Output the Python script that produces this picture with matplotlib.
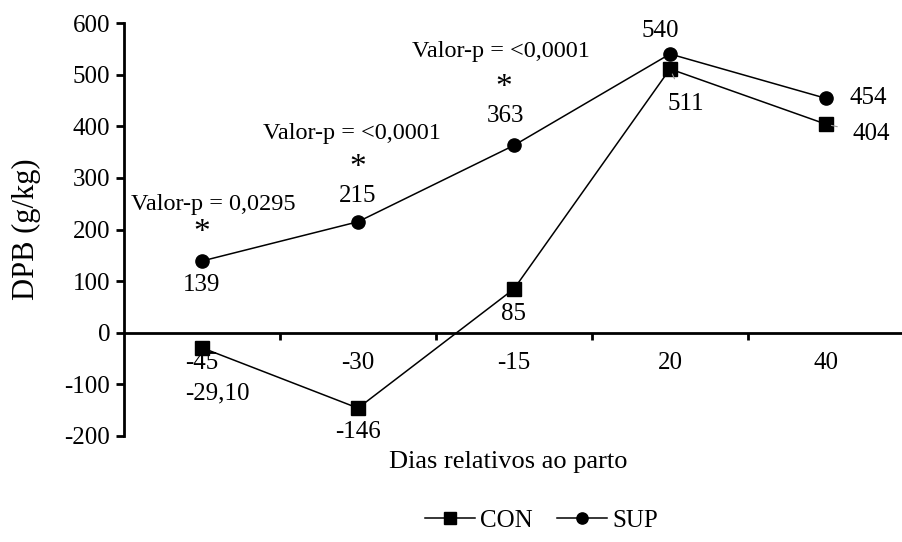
import matplotlib
matplotlib.use("Agg")
import matplotlib.pyplot as plt
import numpy as np

dias = ["-45", "-30", "-15", "20", "40"]
con = [-29.10, -146, 85, 511, 404]
sup = [139, 215, 363, 540, 454]
con_labels = ["-29,10", "-146", "85", "511", "404"]
sup_labels = ["139", "215", "363", "540", "454"]
pvalores = ["Valor-p = 0,0295", "Valor-p = <0,0001", "Valor-p = <0,0001"]

plt.rcParams["font.family"] = ["Liberation Serif", "DejaVu Serif"]
plt.rcParams["axes.unicode_minus"] = False

fig = plt.figure(figsize=(9.03, 5.42), dpi=100)
ax = fig.add_axes([124 / 903, 1 - 436 / 542, 780 / 903, (436 - 23) / 542])

x = np.arange(len(dias))
ax.plot(x, con, color="black", lw=1.1, marker="s", ms=10.5, label="CON")
ax.plot(x, sup, color="black", lw=1.1, marker="o", ms=9.5, label="SUP")

ax.set_xlim(-0.5, len(dias) - 0.5)
ax.set_ylim(-200, 600)
ax.set_yticks(np.arange(-200, 601, 100))
ax.tick_params(axis="y", labelsize=18, width=2, length=6, direction="out", pad=4)

ax.spines["top"].set_visible(False)
ax.spines["right"].set_visible(False)
ax.spines["bottom"].set_position(("data", 0))
ax.spines["left"].set_linewidth(2)
ax.spines["bottom"].set_linewidth(2)

ax.set_xticks(x)
ax.set_xticklabels(dias)
ax.set_xticks(x[:-1] + 0.5, minor=True)
ax.tick_params(axis="x", which="major", length=0, labelsize=18, pad=14)
ax.tick_params(axis="x", which="minor", length=5, width=2, direction="out")

ax.set_ylabel("DPB (g/kg)", fontsize=22)
ax.yaxis.set_label_coords(-0.106, 0.5)
ax.set_xlabel("Dias relativos ao parto", fontsize=19)
ax.xaxis.set_label_coords(0.493, -0.036)

# data labels (offsets in pixels)
con_off = [(15, -46), (0, -24), (0, -25), (16, -35), (45, -10)]
sup_off = [(0, -24), (0, 26), (-9, 29), (-10, 23), (42, 0)]
for i in range(len(dias)):
    arrow = None
    if i >= 3:
        arrow = dict(arrowstyle="-", color="#999999", lw=0.8, shrinkA=9, shrinkB=4)
    ax.annotate(con_labels[i], (x[i], con[i]), xytext=con_off[i],
                textcoords="offset pixels", ha="center", va="center", fontsize=18,
                arrowprops=arrow)
    ax.annotate(sup_labels[i], (x[i], sup[i]), xytext=sup_off[i],
                textcoords="offset pixels", ha="center", va="center", fontsize=18)

# significance labels
ast_off = [(0, 28), (0, 54), (-10, 58)]
p_off = [(11, 56), (-6, 88), (-13, 94)]
for i, txt in enumerate(pvalores):
    ax.annotate("*", (x[i], sup[i]), xytext=ast_off[i], textcoords="offset pixels",
                ha="center", va="center", fontsize=24)
    ax.annotate(txt, (x[i], sup[i]), xytext=p_off[i], textcoords="offset pixels",
                ha="center", va="center", fontsize=17.5)

ax.legend(loc="center", bbox_to_anchor=(0.535, -0.205), ncol=2, frameon=False,
          fontsize=18, handlelength=2.0, columnspacing=1.0, handletextpad=0.2,
          markerscale=0.85, borderpad=0)

fig.savefig("out.png", dpi=100)
